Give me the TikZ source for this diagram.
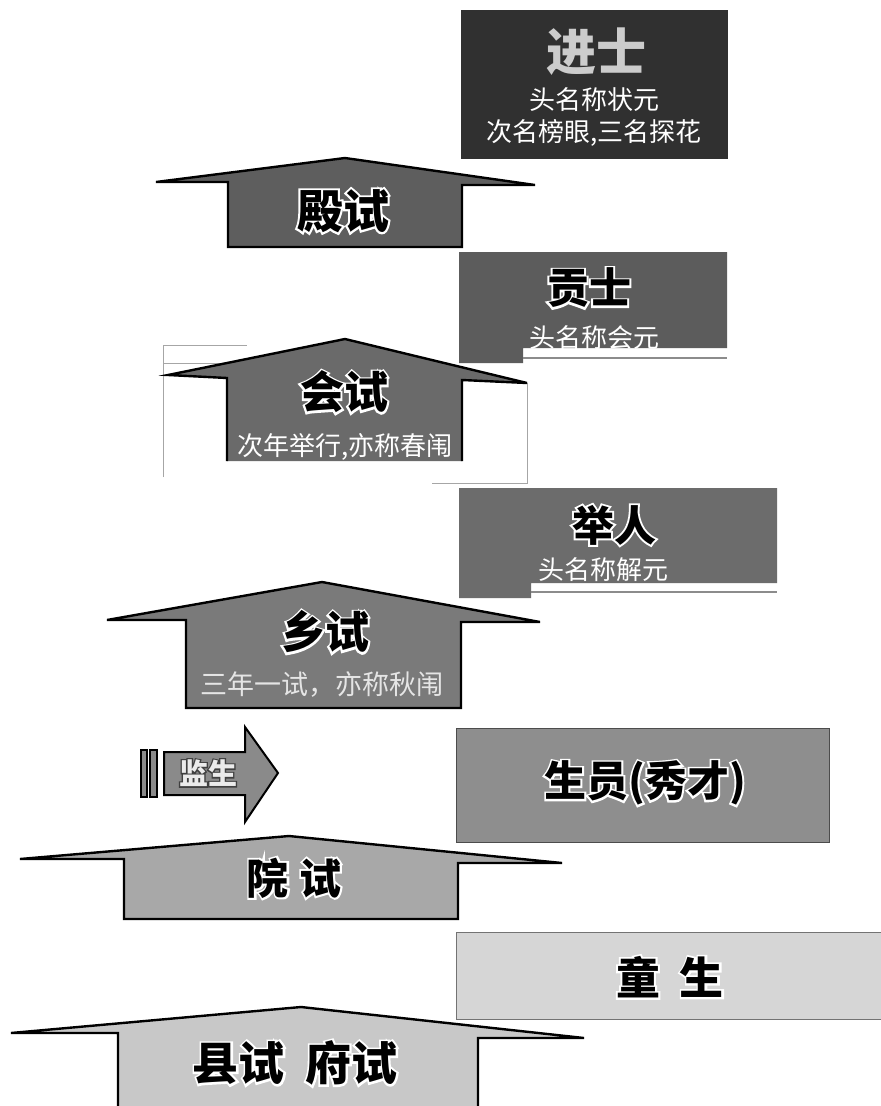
\documentclass[tikz,border=0pt]{standalone}
\usepackage{fontspec}
\setmainfont{Noto Sans CJK SC}
\newcommand\olin[2][white]{\makebox[0pt][l]{\addfontfeatures{FakeBold=9}\color{#1}#2}#2}
\definecolor{cJin}{HTML}{303030}
\definecolor{cDian}{HTML}{5E5E5E}
\definecolor{cGong}{HTML}{5C5C5C}
\definecolor{cHui}{HTML}{6A6A6A}
\definecolor{cJu}{HTML}{6C6C6C}
\definecolor{cXiang}{HTML}{7A7A7A}
\definecolor{cJian}{HTML}{8A8A8A}
\definecolor{cSheng}{HTML}{8E8E8E}
\definecolor{cYuan}{HTML}{A8A8A8}
\definecolor{cTong}{HTML}{D6D6D6}
\definecolor{cXian}{HTML}{C8C8C8}
\begin{document}
\begin{tikzpicture}[x=1pt,y=-1pt,
  arr/.style={draw=black, line width=2.4pt, line join=miter},
  title/.style={font=\fontsize{44}{50}\selectfont\bfseries, inner sep=0pt},
  subw/.style={font=\fontsize{26}{30}\selectfont, text=white, inner sep=0pt},
  frameline/.style={draw=black!35, line width=0.8pt}]
\useasboundingbox (0,0) rectangle (881,1106);
\fill[white] (0,0) rectangle (881,1106);

% ---- 进士 box
\fill[cJin] (461,10) rectangle (728,159);
\node[font=\fontsize{50}{56}\selectfont\bfseries, text=black!20, inner sep=0pt] (jinshi) at (596,52) {进士};
\node[subw] (js1) at (594,100) {头名称状元};
\node[subw] (js2) at (594,133) {次名榜眼,三名探花};

% ---- 殿试 arrow
\draw[arr, fill=cDian] (156,182) -- (345,158) -- (535,185) -- (462,185) -- (462,247) -- (228,247) -- (228,182) -- cycle;
\node[title, font=\fontsize{46}{50}\selectfont\bfseries] (dianshi) at (343,211) {\olin{殿试}};

% ---- 贡士 box
\fill[cGong] (459,252) -- (727,252) -- (727,348) -- (523,348) -- (523,363) -- (459,363) -- cycle;
\draw[black!45, line width=1.5pt] (523,358) -- (727,358);
\node[title, font=\fontsize{42}{48}\selectfont\bfseries] (gongshi) at (589,288) {\olin{贡士}};
\node[subw] (gs1) at (594,338) {头名称会元};

% ---- 会试 arrow with faint frame
\draw[frameline] (163,477) -- (163,345) -- (247,345);
\draw[frameline] (163,363) -- (227,363);
\draw[frameline] (527,383) -- (527,483) -- (432,483);
\fill[cHui] (168,375) -- (345,339) -- (527,383) -- (462,380) -- (462,461) -- (227,461) -- (227,378) -- cycle;
\draw[arr] (462,461) -- (462,380) -- (527,383) -- (345,339) -- (168,375) -- (227,378) -- (227,461);
\node[title] (huishi) at (344,392) {\olin{会试}};
\node[subw] (hs1) at (345,447) {次年举行,亦称春闱};

% ---- 举人 box
\fill[cJu] (459,488) -- (777,488) -- (777,583) -- (531,583) -- (531,598) -- (459,598) -- cycle;
\draw[black!45, line width=1.5pt] (531,592) -- (777,592);
\node[title, font=\fontsize{42}{48}\selectfont\bfseries] (juren) at (614,525) {\olin{举人}};
\node[subw] (jr1) at (603,570) {头名称解元};

% ---- 乡试 arrow
\draw[arr, fill=cXiang] (107,620) -- (322,582) -- (540,622) -- (461,622) -- (461,708) -- (186,708) -- (186,620) -- cycle;
\node[title] (xiangshi) at (325,632) {\olin{乡试}};
\node[subw, text=black!10, font=\fontsize{27}{30}\selectfont] (xs1) at (322,685) {三年一试，亦称秋闱};

% ---- 监生 arrow
\draw[black, line width=1.5pt, fill=cJian] (141,750) rectangle (147,797);
\draw[black, line width=1.5pt, fill=cJian] (150,750) rectangle (157,797);
\draw[black, line width=2pt, line join=miter, fill=cJian] (164,752) -- (245,752) -- (245,727) -- (278,773) -- (245,822) -- (245,795) -- (164,795) -- cycle;
\node[font=\fontsize{29}{32}\selectfont\bfseries, text=black!8, inner sep=0pt] (jiansheng) at (208,773) {\olin[black!75]{监生}};

% ---- 生员 box
\draw[black!70, line width=1pt, fill=cSheng] (456,728) rectangle (829,842);
\node[title, font=\fontsize{42}{48}\selectfont\bfseries] (shengyuan) at (645,783) {\olin{生员(秀才)}};

% ---- 院试 arrow
\draw[arr, fill=cYuan] (20,859) -- (289,836) -- (562,863) -- (458,863) -- (458,919) -- (124,919) -- (124,859) -- cycle;
\node[title, font=\fontsize{42}{48}\selectfont\bfseries] (yuanshi) at (294,878) {\olin{院\hspace{0.25em}试}};

% ---- 童生 box
\draw[black!55, line width=1pt, fill=cTong] (456,932) rectangle (884,1019);
\node[title] (tongsheng) at (670,977) {\olin{童\hspace{0.45em}生}};

% ---- 县试 府试 arrow
\draw[arr, fill=cXian] (11,1033) -- (301,1007) -- (584,1038) -- (478,1038) -- (478,1112) -- (118,1112) -- (118,1033) -- cycle;
\node[title, font=\fontsize{46}{50}\selectfont\bfseries] (xianshi) at (295,1063) {\olin{县试\hspace{0.45em}府试}};
\end{tikzpicture}
\end{document}
